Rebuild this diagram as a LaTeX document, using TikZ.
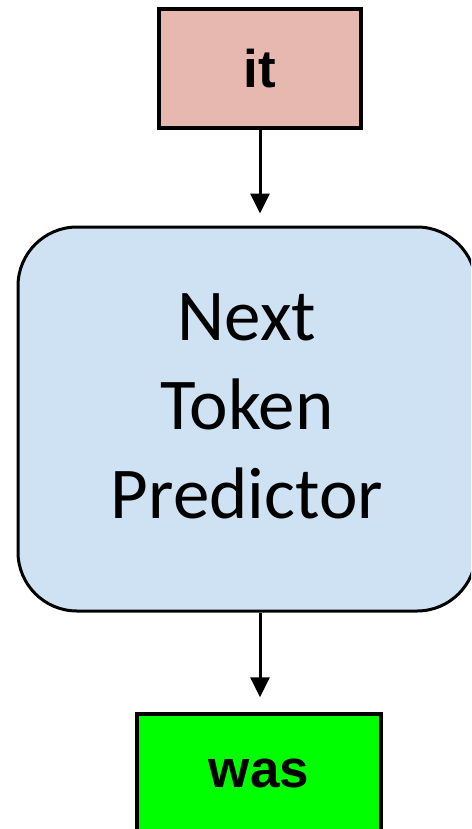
\documentclass[tikz,border=0pt]{standalone}
\usepackage{fontspec}
\setmainfont{Carlito}
\newfontfamily\arialfont{Liberation Sans}
\usetikzlibrary{arrows.meta}
\definecolor{tokpink}{HTML}{E6B8AF}
\definecolor{predblue}{HTML}{CFE2F3}
\definecolor{tokgreen}{HTML}{00FF00}
\tikzset{
  token/.style={draw=black, line width=3.5pt, inner sep=0pt,
    minimum height=119pt, font=\arialfont\bfseries\fontsize{53}{60}\selectfont},
  model/.style={draw=black, line width=3pt, rounded corners=59pt, inner sep=0pt,
    fill=predblue},
  modeltext/.style={align=center, inner sep=0pt, font=\fontsize{73}{89}\selectfont},
  flow/.style={draw=black, line width=3pt, -{Triangle[width=19pt,length=20pt]}}
}
\begin{document}
\begin{tikzpicture}[x=1pt,y=1pt]
  \useasboundingbox (0,0) rectangle (471,-829);
  \clip (0,0) rectangle (471,-829);
  \node[token, fill=tokpink, minimum width=202pt] (it) at (260,-68.5) {it};
  \node[model, minimum width=458pt, minimum height=384pt] (pred) at (247,-419) {};
  \node[modeltext] (predtext) at ([yshift=13pt]pred.center) {Next\\Token\\Predictor};
  \node[token, fill=tokgreen, minimum width=244pt] (was) at (259,-773.5) {was};
  \draw[flow, shorten >=12pt] (it.south) -- (it.south |- pred.north);
  \draw[flow, shorten >=15pt] (pred.south -| it.south) -- (it.south |- was.north);
\end{tikzpicture}
\end{document}
